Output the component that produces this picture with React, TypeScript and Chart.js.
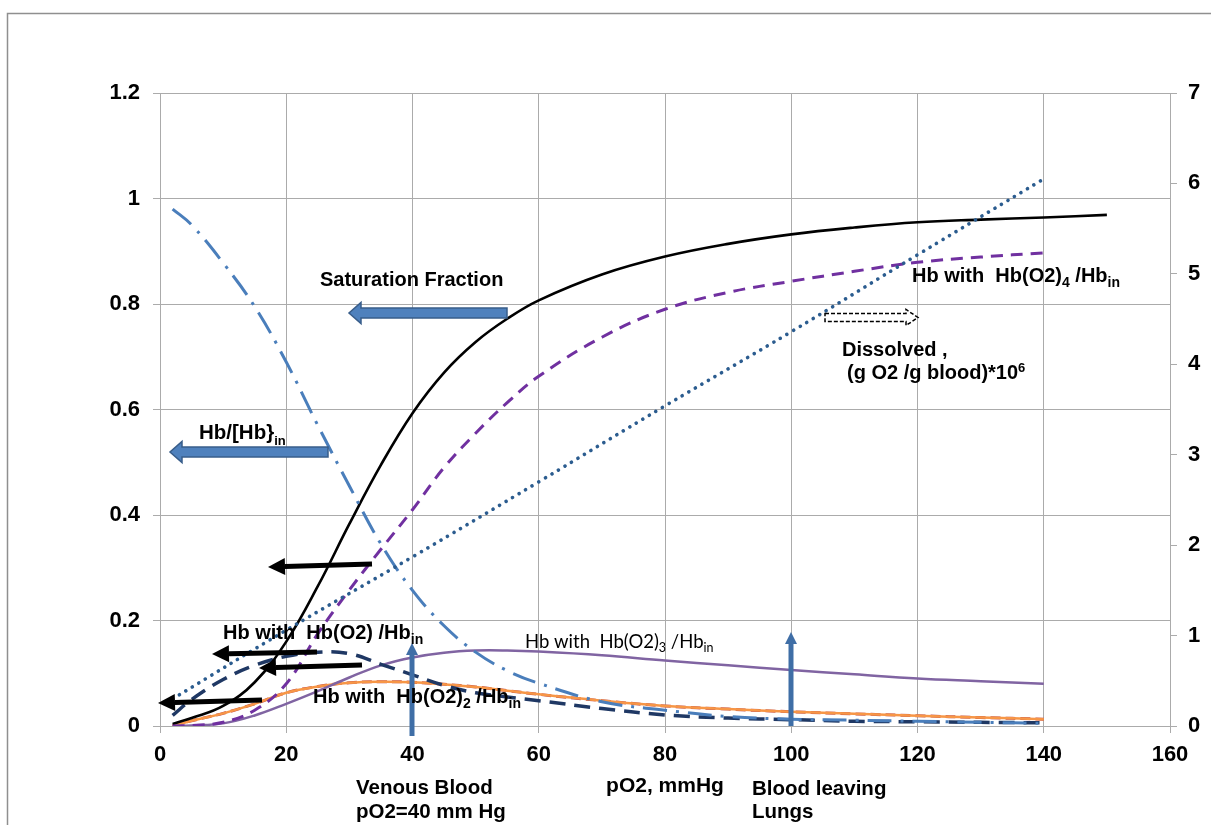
import React, { useEffect, useRef } from "react";
import { Chart, registerables } from "chart.js";

Chart.register(...registerables);

// ---------- data ----------
const pO2 = [2, 5, 10, 15, 20, 25, 30, 35, 40, 45, 50, 55, 60, 70, 80, 90, 100, 110, 120, 130, 140];
const pO2Sat = [2, 5, 10, 15, 20, 25, 30, 35, 40, 45, 50, 55, 60, 70, 80, 90, 100, 110, 120, 130, 140, 150];
const saturation = [0.004, 0.015, 0.038, 0.083, 0.16, 0.265, 0.383, 0.495, 0.593, 0.67, 0.728, 0.772, 0.807, 0.856, 0.89, 0.914, 0.932, 0.945, 0.955, 0.96, 0.964, 0.969];
const hbO2_4 = [0.0, 0.001, 0.007, 0.03, 0.08, 0.175, 0.258, 0.335, 0.41, 0.49, 0.555, 0.613, 0.663, 0.737, 0.79, 0.822, 0.843, 0.862, 0.879, 0.889, 0.897];
const hbFree = [0.98, 0.95, 0.878, 0.795, 0.69, 0.57, 0.455, 0.345, 0.257, 0.19, 0.14, 0.105, 0.081, 0.046, 0.03, 0.018, 0.013, 0.011, 0.009, 0.007, 0.005];
const hbO2_1 = [0.02, 0.05, 0.088, 0.115, 0.132, 0.14, 0.137, 0.117, 0.097, 0.077, 0.063, 0.055, 0.048, 0.033, 0.021, 0.015, 0.012, 0.009, 0.008, 0.007, 0.006];
const hbO2_2 = [0.0, 0.01, 0.024, 0.042, 0.063, 0.075, 0.082, 0.084, 0.083, 0.079, 0.074, 0.067, 0.06, 0.048, 0.038, 0.032, 0.027, 0.023, 0.0195, 0.016, 0.013];
const hbO2_3 = [0.0, 0.001, 0.005, 0.02, 0.042, 0.066, 0.092, 0.115, 0.13, 0.139, 0.143, 0.143, 0.141, 0.134, 0.124, 0.115, 0.106, 0.098, 0.09, 0.085, 0.08];
const pO2Dissolved = [2, 20, 40, 60, 80, 100, 120, 140];
const dissolved = [0.3, 1.06, 1.87, 2.7, 3.54, 4.36, 5.21, 6.05];

const xTickLabels = ["0", "20", "40", "60", "80", "100", "120", "140", "160"];
const leftTickLabels = ["0", "0.2", "0.4", "0.6", "0.8", "1", "1.2"];
const rightTickLabels = ["0", "1", "2", "3", "4", "5", "6", "7"];
const xTitle = "pO2, mmHg";

const FONT = '"Liberation Sans", Arial, Helvetica, sans-serif';
const FONT_THIN = 'Lato, "Open Sans", "Liberation Sans", sans-serif';

type Run = { t: string; s?: "sub" | "sup" };

function drawRich(
  ctx: CanvasRenderingContext2D,
  x: number,
  y: number,
  runs: Run[],
  size: number,
  weight: string,
  family: string,
  smallSize: number,
  subDy: number,
  supDy: number
) {
  let cx = x;
  ctx.textAlign = "left";
  ctx.textBaseline = "alphabetic";
  ctx.fillStyle = "#000";
  for (const r of runs) {
    const sz = r.s ? smallSize : size;
    ctx.font = `${weight} ${sz}px ${family}`;
    const dy = r.s === "sub" ? subDy : r.s === "sup" ? -supDy : 0;
    ctx.fillText(r.t, cx, y + dy);
    cx += ctx.measureText(r.t).width;
  }
}

function fatArrow(
  ctx: CanvasRenderingContext2D,
  tailX: number,
  tipX: number,
  cy: number,
  shaftH: number,
  headH: number,
  headL: number,
  fill: string,
  stroke: string,
  dash: number[] = [],
  lw = 1.5
) {
  const dir = tipX < tailX ? -1 : 1;
  const baseX = tipX - dir * headL;
  ctx.save();
  ctx.beginPath();
  ctx.moveTo(tailX, cy - shaftH / 2);
  ctx.lineTo(baseX, cy - shaftH / 2);
  ctx.lineTo(baseX, cy - headH / 2);
  ctx.lineTo(tipX, cy);
  ctx.lineTo(baseX, cy + headH / 2);
  ctx.lineTo(baseX, cy + shaftH / 2);
  ctx.lineTo(tailX, cy + shaftH / 2);
  ctx.closePath();
  ctx.fillStyle = fill;
  ctx.fill();
  ctx.setLineDash(dash);
  ctx.lineWidth = lw;
  ctx.strokeStyle = stroke;
  ctx.stroke();
  ctx.restore();
}

function lineArrow(
  ctx: CanvasRenderingContext2D,
  x1: number,
  y1: number,
  x2: number,
  y2: number,
  width: number,
  headL: number,
  headW: number,
  color: string
) {
  const ang = Math.atan2(y2 - y1, x2 - x1);
  const bx = x2 - Math.cos(ang) * headL;
  const by = y2 - Math.sin(ang) * headL;
  ctx.save();
  ctx.strokeStyle = color;
  ctx.fillStyle = color;
  ctx.lineWidth = width;
  ctx.lineCap = "butt";
  ctx.beginPath();
  ctx.moveTo(x1, y1);
  ctx.lineTo(bx, by);
  ctx.stroke();
  const nx = -Math.sin(ang);
  const ny = Math.cos(ang);
  ctx.beginPath();
  ctx.moveTo(x2, y2);
  ctx.lineTo(bx + (nx * headW) / 2, by + (ny * headW) / 2);
  ctx.lineTo(bx - (nx * headW) / 2, by - (ny * headW) / 2);
  ctx.closePath();
  ctx.fill();
  ctx.restore();
}

const frameAndNotes = {
  id: "frameAndNotes",
  beforeDraw(chart: any) {
    const ctx = chart.ctx as CanvasRenderingContext2D;
    ctx.save();
    ctx.fillStyle = "#fff";
    ctx.fillRect(0, 0, chart.width, chart.height);
    ctx.strokeStyle = "#8f8f8f";
    ctx.lineWidth = 1.5;
    ctx.beginPath();
    ctx.moveTo(7.5, chart.height);
    ctx.lineTo(7.5, 13.5);
    ctx.lineTo(chart.width, 13.5);
    ctx.stroke();
    ctx.restore();
  },
  afterDatasetsDraw(chart: any) {
    const ctx = chart.ctx as CanvasRenderingContext2D;
    ctx.save();
    // blue block arrows
    fatArrow(ctx, 507, 349, 313, 10, 21, 12, "#4F81BD", "#385D8A");
    fatArrow(ctx, 328, 170, 452, 10, 21, 12, "#4F81BD", "#385D8A");
    // dashed outline arrow
    fatArrow(ctx, 825, 918, 317.5, 8, 16, 12, "#ffffff", "#000000", [4, 2], 1.5);
    // black arrows
    lineArrow(ctx, 372, 564, 268, 567, 5, 17, 17, "#000");
    lineArrow(ctx, 317, 652, 212, 654, 5, 17, 17, "#000");
    lineArrow(ctx, 362, 665, 259, 668, 5, 17, 17, "#000");
    lineArrow(ctx, 262, 700, 158, 703, 5, 17, 17, "#000");
    // vertical blue arrows
    lineArrow(ctx, 412, 736, 412, 643, 5, 12, 12, "#3F6EA6");
    lineArrow(ctx, 791, 726, 791, 632, 5, 12, 12, "#3F6EA6");

    const B = "bold";
    drawRich(ctx, 320, 286, [{ t: "Saturation Fraction" }], 20, B, FONT, 13, 6, 8);
    drawRich(ctx, 199, 439, [{ t: "Hb/[Hb}" }, { t: "in", s: "sub" }], 20.5, B, FONT, 13, 6, 8);
    drawRich(ctx, 223, 639, [{ t: "Hb with  Hb(O2) /Hb" }, { t: "in", s: "sub" }], 20, B, FONT, 14, 5, 8);
    drawRich(
      ctx,
      313,
      703,
      [{ t: "Hb with  Hb(O2)" }, { t: "2", s: "sub" }, { t: " /Hb" }, { t: "in", s: "sub" }],
      20,
      B,
      FONT,
      14,
      5,
      8
    );
    drawRich(
      ctx,
      525,
      648,
      [{ t: "Hb with  Hb(O2)" }, { t: "3", s: "sub" }, { t: " /Hb" }, { t: "in", s: "sub" }],
      18.5,
      "normal",
      FONT_THIN,
      12.5,
      4,
      7
    );
    drawRich(
      ctx,
      912,
      282,
      [{ t: "Hb with  Hb(O2)" }, { t: "4", s: "sub" }, { t: " /Hb" }, { t: "in", s: "sub" }],
      20,
      B,
      FONT,
      14,
      5,
      8
    );
    drawRich(ctx, 842, 356, [{ t: "Dissolved ," }], 20, B, FONT, 13, 5, 8);
    drawRich(ctx, 847, 379, [{ t: "(g O2 /g blood)*10" }, { t: "6", s: "sup" }], 20, B, FONT, 13, 5, 7);
    drawRich(ctx, 356, 794, [{ t: "Venous Blood" }], 20.5, B, FONT, 13, 5, 8);
    drawRich(ctx, 356, 818, [{ t: "pO2=40 mm Hg" }], 20.5, B, FONT, 13, 5, 8);
    drawRich(ctx, 752, 795, [{ t: "Blood leaving" }], 20.5, B, FONT, 13, 5, 8);
    drawRich(ctx, 752, 818, [{ t: "Lungs" }], 20.5, B, FONT, 13, 5, 8);
    ctx.restore();
  },
};

function pts(xs: number[], ys: number[]) {
  return xs.map((x, i) => ({ x, y: ys[i] }));
}

export default function App() {
  const ref = useRef<HTMLCanvasElement | null>(null);

  useEffect(() => {
    if (!ref.current) return;
    const gridColor = "#ababab";
    const tickFont = { family: FONT, size: 22, weight: "bold" as const };
    const common = {
      pointRadius: 0,
      pointHoverRadius: 0,
      fill: false,
      tension: 0.4,
      cubicInterpolationMode: "default" as const,
    };
    const chart = new Chart(ref.current, {
      type: "line",
      data: {
        datasets: [
          {
            ...common,
            label: "Dissolved",
            data: pts(pO2Dissolved, dissolved),
            yAxisID: "y1",
            borderColor: "#2B5C8F",
            borderWidth: 3.6,
            borderDash: [0.1, 7.5],
            borderCapStyle: "round",
          },
          {
            ...common,
            label: "Hb/Hbin",
            data: pts(pO2, hbFree),
            yAxisID: "y",
            borderColor: "#4A7EBB",
            borderWidth: 3,
            borderDash: [24, 9, 3, 9],
          },
          {
            ...common,
            label: "Hb(O2)4",
            data: pts(pO2, hbO2_4),
            yAxisID: "y",
            borderColor: "#7030A0",
            borderWidth: 3,
            borderDash: [12, 8],
          },
          {
            ...common,
            label: "Saturation",
            data: pts(pO2Sat, saturation),
            yAxisID: "y",
            borderColor: "#000000",
            borderWidth: 2.6,
          },
          {
            ...common,
            label: "Hb(O2)",
            data: pts(pO2, hbO2_1),
            yAxisID: "y",
            borderColor: "#1F3864",
            borderWidth: 3.5,
            borderDash: [16, 9],
          },
          {
            ...common,
            label: "Hb(O2)3",
            data: pts(pO2, hbO2_3),
            yAxisID: "y",
            borderColor: "#8064A2",
            borderWidth: 2.5,
          },
          {
            ...common,
            label: "Hb(O2)2",
            data: pts(pO2, hbO2_2),
            yAxisID: "y",
            borderColor: "#F79646",
            borderWidth: 2.5,
          },
          {
            ...common,
            label: "Hb(O2)2 b",
            data: pts(pO2, hbO2_2),
            yAxisID: "y",
            borderColor: "#C0504D",
            borderWidth: 3,
            borderDash: [10, 5],
          },
        ],
      },
      options: {
        responsive: false,
        animation: false,
        devicePixelRatio: 1,
        events: [],
        layout: { padding: { top: 93, left: 0, right: 0, bottom: 0 } },
        plugins: {
          legend: { display: false },
          tooltip: { enabled: false },
          title: { display: false },
        },
        scales: {
          x: {
            type: "linear",
            min: 0,
            max: 160,
            ticks: {
              stepSize: 20,
              autoSkip: false,
              maxRotation: 0,
              padding: 9,
              color: "#000",
              font: tickFont,
              callback: (v: any) => xTickLabels[Math.round(Number(v) / 20)] ?? "",
            },
            grid: { color: gridColor, lineWidth: 1, tickLength: 7, drawTicks: true },
            border: { color: gridColor, width: 1 },
            title: {
              display: true,
              text: xTitle,
              color: "#000",
              font: { family: FONT, size: 21, weight: "bold" },
              padding: { top: 0, bottom: 26 },
            },
            afterFit: (s: any) => {
              s.height = 99;
            },
          },
          y: {
            position: "left",
            min: 0,
            max: 1.2,
            ticks: {
              stepSize: 0.2,
              padding: 13,
              color: "#000",
              font: tickFont,
              callback: (v: any) => leftTickLabels[Math.round(Number(v) / 0.2)] ?? "",
            },
            grid: { color: gridColor, lineWidth: 1, tickLength: 7 },
            border: { color: gridColor, width: 1 },
            afterFit: (s: any) => {
              s.width = 160;
            },
          },
          y1: {
            position: "right",
            min: 0,
            max: 7,
            ticks: {
              stepSize: 1,
              padding: 11,
              color: "#000",
              font: tickFont,
              callback: (v: any) => rightTickLabels[Math.round(Number(v))] ?? "",
            },
            grid: { drawOnChartArea: false, color: gridColor, lineWidth: 1, tickLength: 7 },
            border: { color: gridColor, width: 1 },
            afterFit: (s: any) => {
              s.width = 41;
            },
          },
        },
      } as any,
      plugins: [frameAndNotes],
    });
    return () => chart.destroy();
  }, []);

  return (
    <div
      style={{
        position: "fixed",
        left: 0,
        top: 0,
        width: 1211,
        height: 825,
        background: "#fff",
        overflow: "hidden",
      }}
    >
      <canvas ref={ref} width={1211} height={825} style={{ display: "block", width: 1211, height: 825 }} />
    </div>
  );
}
